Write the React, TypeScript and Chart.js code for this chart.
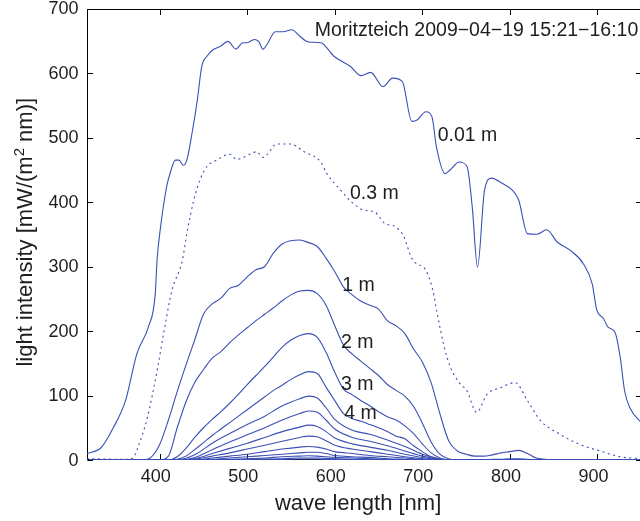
import React, { useEffect, useRef } from "react";
import { Chart, registerables } from "chart.js";

Chart.register(...registerables);

// ---------- data ----------
const X_MIN = 317;
const X_MAX = 950;
const Y_MIN = 0;
const Y_MAX = 700;
const X_TICKS = [400, 500, 600, 700, 800, 900];
const Y_TICKS = [0, 100, 200, 300, 400, 500, 600, 700];

const TITLE = "Moritzteich 2009\u221204\u221219 15:21\u221216:10";
const X_TITLE = "wave length [nm]";
const Y_TITLE_A = "light intensity [mW/(m";
const Y_TITLE_SUP = "2";
const Y_TITLE_B = " nm)]";

const DEPTH_LABELS = ["0.01 m", "0.3 m", "1 m", "2 m", "3 m", "4 m"];

// 0.01 m
const WL_SURF = [317, 333, 347, 361, 374, 387, 395, 397, 401, 408, 412, 418, 422, 427, 431, 437, 443, 448, 454, 461, 469, 478, 487, 495, 500, 508, 513, 518, 523, 532, 541, 551, 560, 570, 584, 599, 618, 630, 641, 655, 666, 677, 688, 694, 704, 711, 716, 726, 732, 742, 751, 757, 763, 771, 779, 791, 803, 810, 820, 831, 842, 854, 869, 884, 894, 899, 907, 912, 920, 926, 931, 937, 948, 955];
const I_001 = [10, 19, 50, 92, 165, 206, 258, 310, 361, 424, 445, 465, 465, 457, 465, 507, 558, 610, 626, 636, 641, 649, 637, 647, 647, 652, 649, 637, 645, 664, 664, 667, 657, 648, 647, 626, 610, 596, 601, 579, 592, 587, 525, 527, 540, 532, 486, 444, 450, 462, 455, 392, 299, 418, 437, 429, 418, 403, 351, 350, 357, 338, 325, 304, 273, 234, 219, 206, 198, 159, 107, 81, 61, 55];

// 0.3 m (dotted)
const WL_03 = [317, 363, 370, 375, 386, 397, 405, 414, 426, 431, 439, 446, 454, 465, 480, 488, 503, 511, 518, 534, 549, 565, 584, 591, 607, 619, 634, 645, 657, 670, 679, 687, 691, 704, 712, 717, 725, 732, 742, 751, 762, 774, 789, 806, 820, 835, 857, 880, 903, 926, 950];
const I_03 = [2, 1, 4, 19, 66, 138, 200, 263, 310, 351, 403, 434, 455, 465, 474, 466, 474, 478, 469, 490, 490, 478, 462, 444, 418, 400, 387, 385, 367, 361, 346, 315, 307, 294, 263, 227, 175, 144, 120, 107, 74, 102, 112, 120, 92, 61, 40, 24, 14, 5, 2];

// 1 m .. 4 m
const WL_DEEP = [320, 380, 390, 400, 410, 420, 430, 440, 450, 460, 470, 480, 490, 500, 510, 520, 530, 540, 550, 560, 570, 580, 590, 600, 610, 620, 630, 640, 650, 660, 670, 680, 690, 700, 710, 720, 730, 740, 750, 760, 770, 780, 790, 800, 810, 820, 830, 840, 850, 950];
const I_1M = [0, 0, 4, 24, 62, 106, 147, 186, 226, 242, 251, 266, 271, 284, 295, 300, 321, 335, 340, 341, 337, 331, 313, 292, 268, 256, 246, 240, 234, 216, 208, 196, 172, 152, 120, 72, 30, 14, 9, 6, 6, 8, 11, 13, 15, 10, 3, 1, 0, 0];
const I_2M = [0, 0, 0, 0, 6, 50, 90, 120, 140, 158, 168, 182, 194, 205, 216, 226, 236, 247, 256, 262, 263, 258, 240, 208, 178, 164, 153, 142, 131, 117, 108, 99, 83, 57, 28, 9, 2, 0, 0, 0, 0, 1, 1, 2, 2, 1, 0, 0, 0, 0];
const I_3M = [0, 0, 0, 0, 0, 5, 18, 35, 50, 63, 75, 88, 102, 117, 131, 145, 160, 175, 186, 193, 196, 190, 167, 136, 110, 101, 92, 84, 75, 67, 62, 53, 41, 25, 11, 3, 0, 0, 0, 0, 0, 0, 0, 0, 0, 0, 0, 0, 0, 0];
const I_4M = [0, 0, 0, 0, 0, 1, 6, 16, 27, 38, 48, 58, 68, 78, 88, 98, 108, 116, 125, 132, 137, 134, 113, 92, 72, 64, 60, 55, 50, 44, 37, 33, 22, 13, 5, 1, 0, 0, 0, 0, 0, 0, 0, 0, 0, 0, 0, 0, 0, 0];

// 5 m .. 13 m
const WL_LOW = [320, 420, 440, 460, 480, 500, 520, 540, 560, 570, 580, 590, 600, 620, 640, 660, 680, 700, 720, 740, 950];
const I_5M = [0, 0, 8, 26, 41, 55, 68, 84, 95, 99, 96, 81, 63, 46, 40, 31, 21, 9, 2, 0, 0];
const I_6M = [0, 0, 4, 16, 28, 39, 50, 62, 72, 76, 74, 62, 48, 35, 29, 22, 14, 6, 1, 0, 0];
const I_7M = [0, 0, 2, 10, 18, 26, 35, 44, 51, 54, 52, 44, 34, 25, 20, 15, 9, 4, 1, 0, 0];
const I_8M = [0, 0, 1, 6, 11, 17, 23, 29, 35, 37, 36, 30, 23, 17, 13, 9, 5, 2, 0, 0, 0];
const I_9M = [0, 0, 0, 3, 6, 9, 13, 17, 20, 21, 20, 17, 13, 10, 7, 5, 3, 1, 0, 0, 0];
const I_10M = [0, 0, 0, 1, 3, 5, 7, 9, 11, 12, 12, 10, 7, 5, 4, 2, 1, 0, 0, 0, 0];
const I_11M = [0, 0, 0, 0, 1, 2, 3, 5, 6, 6.5, 6, 5, 4, 3, 2, 1, 0, 0, 0, 0, 0];
const I_12M = [0, 0, 0, 0, 0, 1, 1.5, 2, 3, 3, 3, 2.5, 2, 1, 1, 0, 0, 0, 0, 0, 0];
const I_13M = [0, 0, 0, 0, 0, 0, 0.5, 1, 1.5, 1.5, 1.5, 1, 1, 0.5, 0, 0, 0, 0, 0, 0, 0];

// ---------- layout / style (not data) ----------
const CANVAS_W = 700;
const CANVAS_H = 521;
const AREA = { left: 87, top: 8.5, right: 641.25, bottom: 460 };
const LINE_COLOR = "#3b4fb5";
const TEXT_COLOR = "#1e1e1e";
const FONT = '"Liberation Sans", Arial, Helvetica, sans-serif';
// label anchors in data coordinates [nm, intensity] (bottom-left of text)
const LABEL_ANCHORS: [number, number][] = [
  [717.5, 494.6],
  [617.3, 403.9],
  [608.5, 262],
  [607, 174.4],
  [607, 107.8],
  [610.8, 63.1],
];
const TITLE_ANCHOR: [number, number] = [577, 657.4];

const zip = (xs: number[], ys: number[]) => xs.map((x, i) => ({ x, y: ys[i] }));

function buildDatasets() {
  const solid = (data: { x: number; y: number }[]) => ({
    data,
    borderColor: LINE_COLOR,
    borderWidth: 1.1,
    pointRadius: 0,
    fill: false,
    cubicInterpolationMode: "monotone" as const,
  });
  const sets: any[] = [];
  sets.push(solid(zip(WL_SURF, I_001)));
  sets.push({ ...solid(zip(WL_03, I_03)), borderDash: [2, 3.5] });
  [I_1M, I_2M, I_3M, I_4M].forEach((s) => sets.push(solid(zip(WL_DEEP, s))));
  [I_5M, I_6M, I_7M, I_8M, I_9M, I_10M, I_11M, I_12M, I_13M].forEach((s) =>
    sets.push(solid(zip(WL_LOW, s)))
  );
  return sets;
}

const framePlugin = {
  id: "frame",
  beforeDatasetsDraw(chart: any) {
    const { ctx, chartArea: a, scales } = chart;
    const x = scales.x;
    const y = scales.y;
    ctx.save();
    ctx.strokeStyle = "#000";
    ctx.lineWidth = 1;
    const L = Math.round(a.left) + 0.5;
    const R = Math.round(a.right) + 0.5;
    const T = Math.round(a.top) + 0.5;
    const B = Math.round(a.bottom) - 0.5;
    ctx.strokeRect(L, T, R - L, B - T);
    const tl = 5.5;
    ctx.beginPath();
    X_TICKS.forEach((v) => {
      const px = Math.round(x.getPixelForValue(v)) + 0.5;
      ctx.moveTo(px, B);
      ctx.lineTo(px, B - tl);
      ctx.moveTo(px, T);
      ctx.lineTo(px, T + tl);
    });
    Y_TICKS.forEach((v) => {
      const py = Math.round(y.getPixelForValue(v)) + 0.5;
      ctx.moveTo(L, py);
      ctx.lineTo(L + tl, py);
      ctx.moveTo(R, py);
      ctx.lineTo(R - tl, py);
    });
    ctx.stroke();
    ctx.restore();
  },
  afterDraw(chart: any) {
    const { ctx, chartArea: a, scales } = chart;
    const x = scales.x;
    const y = scales.y;
    ctx.save();
    ctx.fillStyle = TEXT_COLOR;

    // tick labels
    ctx.font = `18px ${FONT}`;
    ctx.textBaseline = "middle";
    ctx.textAlign = "center";
    X_TICKS.forEach((v) => {
      ctx.fillText(String(v), x.getPixelForValue(v) - 4, 477.5);
    });
    ctx.textAlign = "right";
    Y_TICKS.forEach((v) => {
      ctx.fillText(String(v), a.left - 8.5, y.getPixelForValue(v) + 1);
    });

    ctx.textBaseline = "alphabetic";
    ctx.textAlign = "left";
    ctx.font = `19.5px ${FONT}`;
    ctx.fillText(TITLE, x.getPixelForValue(TITLE_ANCHOR[0]), y.getPixelForValue(TITLE_ANCHOR[1]));
    DEPTH_LABELS.forEach((t, i) => {
      const [nx, ny] = LABEL_ANCHORS[i];
      ctx.fillText(t, x.getPixelForValue(nx), y.getPixelForValue(ny));
    });

    // x title
    ctx.font = `22px ${FONT}`;
    ctx.textAlign = "center";
    ctx.fillText(X_TITLE, (a.left + a.right) / 2 - 6, 510);

    // y title (rotated, with superscript)
    const big = `22px ${FONT}`;
    const small = `15px ${FONT}`;
    ctx.font = big;
    const w1 = ctx.measureText(Y_TITLE_A).width;
    const w3 = ctx.measureText(Y_TITLE_B).width;
    ctx.font = small;
    const w2 = ctx.measureText(Y_TITLE_SUP).width;
    const W = w1 + w2 + w3;
    ctx.translate(32, (a.top + a.bottom) / 2 - 2);
    ctx.rotate(-Math.PI / 2);
    ctx.textAlign = "left";
    const s = -W / 2;
    ctx.font = big;
    ctx.fillText(Y_TITLE_A, s, 0);
    ctx.font = small;
    ctx.fillText(Y_TITLE_SUP, s + w1, -8);
    ctx.font = big;
    ctx.fillText(Y_TITLE_B, s + w1 + w2, 0);
    ctx.restore();
  },
};

export default function App() {
  const ref = useRef<HTMLCanvasElement | null>(null);
  useEffect(() => {
    if (!ref.current) return;
    const chart = new Chart(ref.current, {
      type: "line",
      data: { datasets: buildDatasets() },
      options: {
        animation: false,
        responsive: false,
        devicePixelRatio: 1,
        parsing: false as any,
        normalized: true,
        layout: {
          padding: { left: 0, top: AREA.top, right: CANVAS_W - AREA.right, bottom: 0 },
        },
        plugins: {
          legend: { display: false },
          tooltip: { enabled: false },
          title: { display: false },
        },
        elements: { line: { tension: 0 } },
        scales: {
          x: {
            type: "linear",
            min: X_MIN,
            max: X_MAX,
            grid: { display: false },
            border: { display: false },
            ticks: { display: false },
            afterBuildTicks: (sc: any) => {
              sc.ticks = X_TICKS.map((v) => ({ value: v }));
            },
            afterFit: (sc: any) => {
              sc.height = CANVAS_H - AREA.bottom;
              sc.paddingLeft = 0;
              sc.paddingRight = 0;
            },
          },
          y: {
            type: "linear",
            min: Y_MIN,
            max: Y_MAX,
            grid: { display: false },
            border: { display: false },
            ticks: { display: false },
            afterBuildTicks: (sc: any) => {
              sc.ticks = Y_TICKS.map((v) => ({ value: v }));
            },
            afterFit: (sc: any) => {
              sc.width = AREA.left;
              sc.paddingTop = 0;
              sc.paddingBottom = 0;
            },
          },
        },
      },
      plugins: [framePlugin],
    } as any);
    return () => chart.destroy();
  }, []);
  return (
    <div
      style={{
        position: "absolute",
        left: 0,
        top: 0,
        width: 640,
        height: 521,
        overflow: "hidden",
        background: "#fff",
      }}
    >
      <canvas ref={ref} width={CANVAS_W} height={CANVAS_H} style={{ display: "block" }} />
    </div>
  );
}
